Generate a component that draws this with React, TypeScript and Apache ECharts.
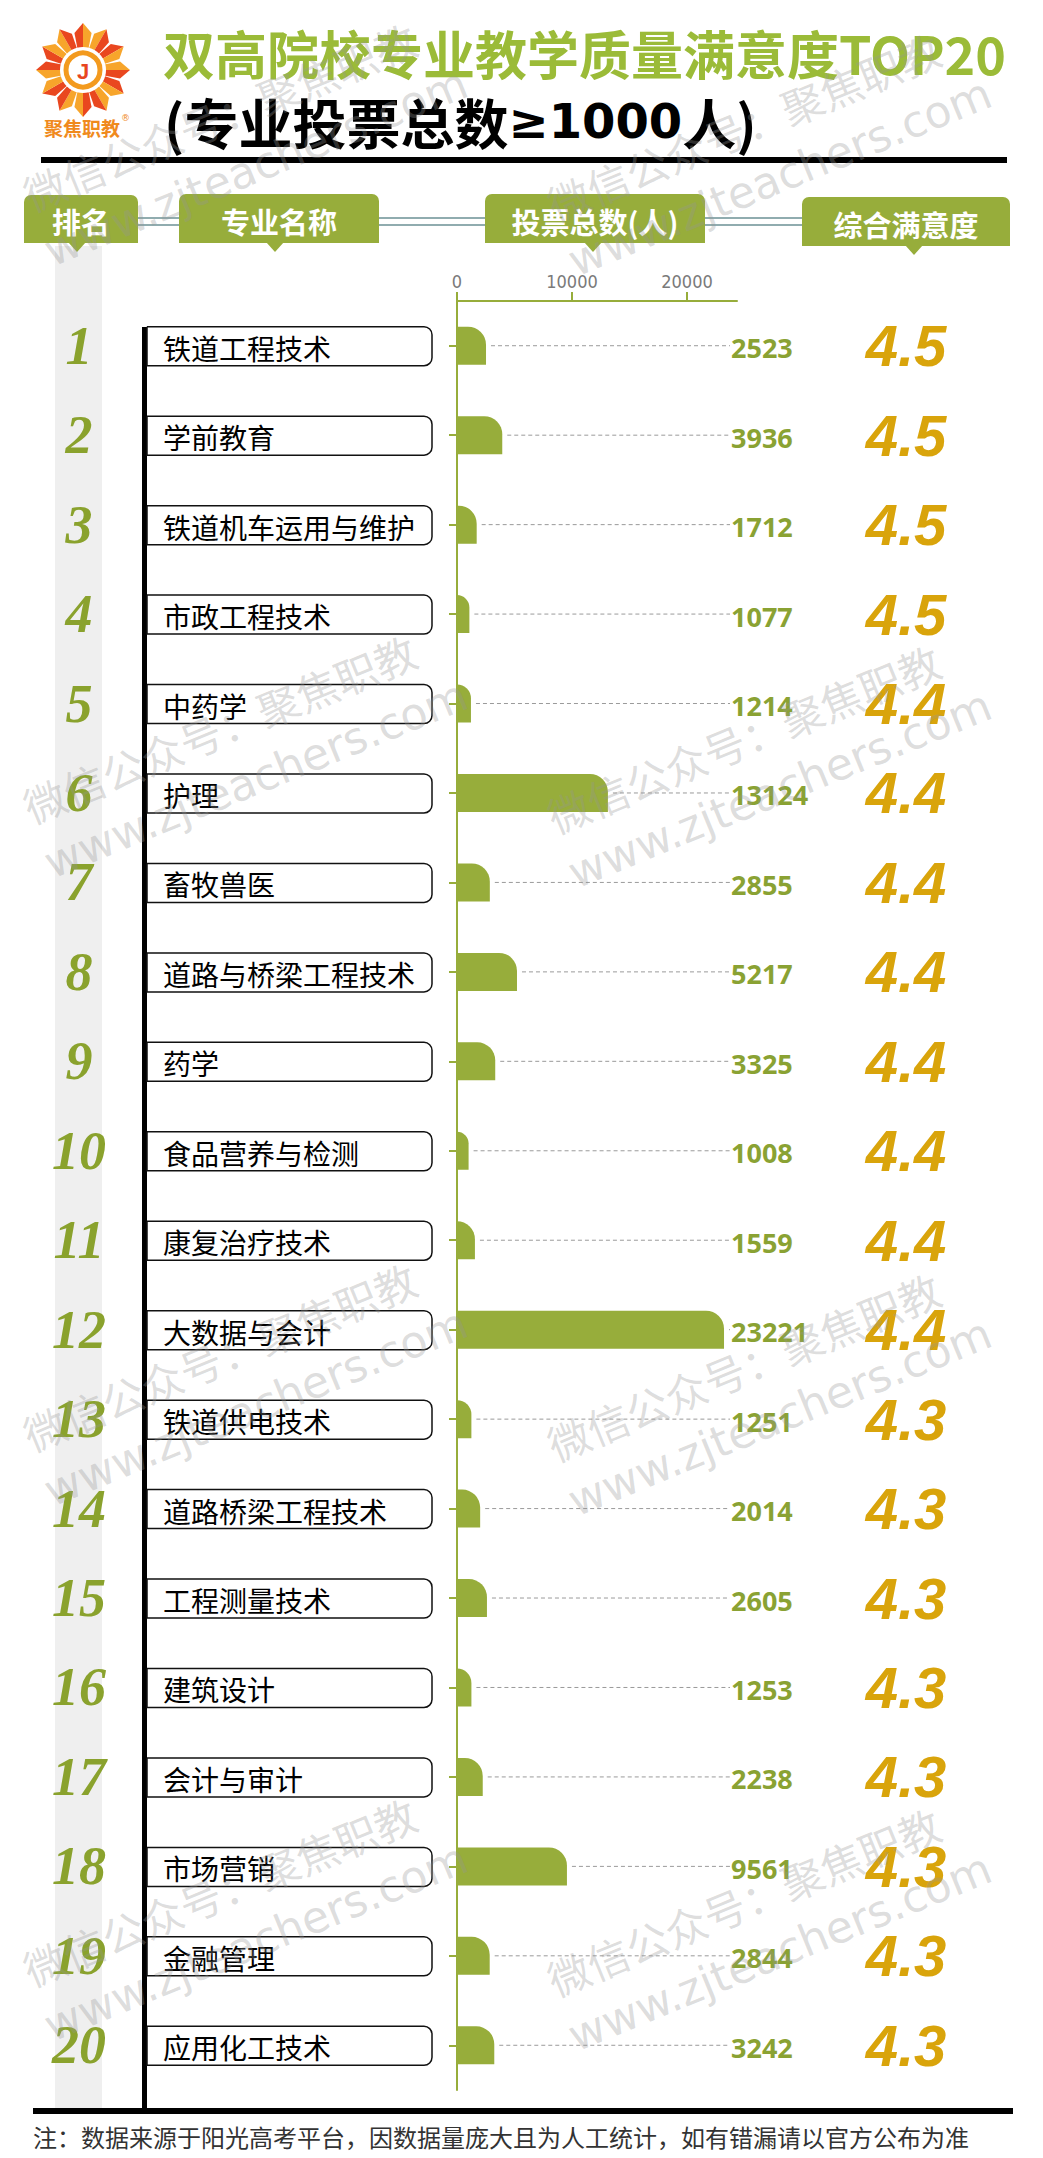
import React, { useEffect, useRef } from 'react';
import * as echarts from 'echarts';

const ranks = ['1', '2', '3', '4', '5', '6', '7', '8', '9', '10', '11', '12', '13', '14', '15', '16', '17', '18', '19', '20'];
const majors = [
  '铁道工程技术', '学前教育', '铁道机车运用与维护', '市政工程技术', '中药学',
  '护理', '畜牧兽医', '道路与桥梁工程技术', '药学', '食品营养与检测',
  '康复治疗技术', '大数据与会计', '铁道供电技术', '道路桥梁工程技术', '工程测量技术',
  '建筑设计', '会计与审计', '市场营销', '金融管理', '应用化工技术',
];
const votes = [2523, 3936, 1712, 1077, 1214, 13124, 2855, 5217, 3325, 1008, 1559, 23221, 1251, 2014, 2605, 1253, 2238, 9561, 2844, 3242];
const scores = [4.5, 4.5, 4.5, 4.5, 4.4, 4.4, 4.4, 4.4, 4.4, 4.4, 4.4, 4.4, 4.3, 4.3, 4.3, 4.3, 4.3, 4.3, 4.3, 4.3];
const axisTickValues = [0, 10000, 20000];
const headers = ['排名', '专业名称', '投票总数(人)', '综合满意度'];
const titleLine1 = '双高院校专业教学质量满意度TOP20';
const titleLine2Parts = ['(专业投票总数', '≥1000', '人)'];
const footnote = '注：数据来源于阳光高考平台，因数据量庞大且为人工统计，如有错漏请以官方公布为准';
const watermark1 = '微信公众号：聚焦职教';
const watermark2 = 'www.zjteachers.com';

const GREEN = '#97ad3b';
const CJK = '"Noto Sans CJK SC", "Noto Sans", sans-serif';

function txt(style: any) {
  const s = { ...style };
  if (s.align) s.textAlign = s.align;
  if (s.verticalAlign) s.textVerticalAlign = s.verticalAlign;
  return s;
}

function buildLogo(): any[] {
  const cx = 83, cy = 70;
  const pt = (r: number, deg: number) => {
    const a = (deg * Math.PI) / 180;
    return [cx + r * Math.cos(a), cy + r * Math.sin(a)];
  };
  const els: any[] = [];
  for (let i = 0; i < 12; i++) {
    const a = -90 + i * 30;
    const red = '#e9471f', orange = '#f7a52b';
    els.push({
      type: 'polygon', z: 5,
      shape: { points: [pt(19, a - 15), pt(38, a - 13), pt(47, a), pt(19, a)] },
      style: { fill: i % 2 === 0 ? red : orange },
    });
    els.push({
      type: 'polygon', z: 5,
      shape: { points: [pt(19, a), pt(47, a), pt(38, a + 13), pt(19, a + 15)] },
      style: { fill: i % 2 === 0 ? orange : red },
    });
  }
  els.push({ type: 'circle', z: 6, shape: { cx, cy, r: 23 }, style: { fill: '#fff' } });
  els.push({ type: 'circle', z: 6, shape: { cx, cy, r: 17 }, style: { fill: '#fff', stroke: '#f39a1e', lineWidth: 5 } });
  els.push({ type: 'text', z: 7, style: txt({ text: 'J', x: cx, y: cy + 1, font: 'bold 22px "Liberation Sans", sans-serif', fill: '#e8461f', align: 'center', verticalAlign: 'middle' }) });
  els.push({ type: 'text', z: 7, style: txt({ text: '聚焦职教', x: 82, y: 127, font: `bold 19px ${CJK}`, fill: '#f08a1d', align: 'center', verticalAlign: 'middle' }) });
  els.push({ type: 'text', z: 7, style: txt({ text: '®', x: 121, y: 118, font: '9px "DejaVu Sans", sans-serif', fill: '#f08a1d', align: 'left', verticalAlign: 'middle' }) });
  return els;
}

function buildHeader(): any[] {
  const boxes = [
    { x: 24, y: 195, w: 114, h: 48, p: 77 },
    { x: 179, y: 194, w: 200, h: 49, p: 275 },
    { x: 485, y: 194, w: 220, h: 49, p: 593 },
    { x: 802, y: 197, w: 208, h: 49, p: 914 },
  ];
  const els: any[] = [
    { type: 'line', z: 3, shape: { x1: 24, y1: 218, x2: 1010, y2: 218 }, style: { stroke: '#6b9095', lineWidth: 1.5 } },
    { type: 'line', z: 3, shape: { x1: 24, y1: 225, x2: 1010, y2: 225 }, style: { stroke: '#6b9095', lineWidth: 1.5 } },
  ];
  boxes.forEach((b, i) => {
    els.push({ type: 'rect', z: 4, shape: { x: b.x, y: b.y, width: b.w, height: b.h, r: [7, 7, 0, 0] }, style: { fill: GREEN } });
    els.push({ type: 'polygon', z: 4, shape: { points: [[b.p - 9, b.y + b.h - 1], [b.p + 9, b.y + b.h - 1], [b.p, b.y + b.h + 9]] }, style: { fill: GREEN } });
    els.push({ type: 'text', z: 5, style: txt({ text: headers[i], x: b.x + b.w / 2, y: b.y + b.h / 2 + 2, font: `bold 29px ${CJK}`, fill: '#fff', align: 'center', verticalAlign: 'middle' }) });
  });
  return els;
}

function buildWatermarks(): any[] {
  const tiles = [[33, 215], [557, 225], [33, 827], [557, 837], [33, 1455], [557, 1465], [33, 1990], [557, 2000]];
  const fill = 'rgba(150,150,150,0.32)';
  return tiles.map(([x, y]) => ({
    type: 'group', x, y, rotation: 0.39,
    children: [
      { type: 'text', z: 100, style: txt({ text: watermark1, x: 0, y: 0, font: `42px ${CJK}`, fill, align: 'left', verticalAlign: 'bottom' }) },
      { type: 'text', z: 100, style: txt({ text: watermark2, x: -2, y: 62, font: '44px "DejaVu Sans", sans-serif', fill, align: 'left', verticalAlign: 'bottom' }) },
    ],
  }));
}

export default function App() {
  const ref = useRef<HTMLDivElement>(null);
  useEffect(() => {
    if (!ref.current) return;
    const chart = echarts.init(ref.current, undefined, { renderer: 'svg' });
    const option: any = {
      animation: false,
      backgroundColor: '#ffffff',
      grid: { left: 457, top: 301, width: 280, height: 1789 },
      xAxis: {
        type: 'value', position: 'top', min: 0, max: 24350,
        axisLine: { show: true, lineStyle: { color: GREEN, width: 2 } },
        axisTick: { show: true, length: 9, customValues: axisTickValues, lineStyle: { color: GREEN, width: 2 } },
        axisLabel: {
          customValues: axisTickValues, color: '#7a7a7a', fontSize: 18, margin: 11,
          fontFamily: '"Liberation Sans Narrow", "DejaVu Sans Condensed", sans-serif',
          formatter: (v: number) => String(v),
        },
        splitLine: { show: false },
      },
      yAxis: {
        type: 'category', inverse: true, data: majors,
        axisLine: { show: true, lineStyle: { color: GREEN, width: 2 } },
        axisTick: { show: true, length: 8, alignWithLabel: true, lineStyle: { color: GREEN, width: 2 } },
        axisLabel: { show: false },
      },
      graphic: [
        ...buildLogo(),
        { type: 'text', z: 5, style: txt({ text: titleLine1, x: 163, y: 52, font: `bold 52px ${CJK}`, fill: '#9bbb38', align: 'left', verticalAlign: 'middle' }) },
        {
          type: 'text', z: 5,
          style: txt({
            text: `{a|${titleLine2Parts[0]}}{b|${titleLine2Parts[1]}}{a|${titleLine2Parts[2]}}`,
            x: 164, y: 121, fill: '#000', align: 'left', verticalAlign: 'middle',
            font: `bold 53px ${CJK}`,
            rich: {
              a: { fontFamily: '"Noto Sans CJK SC", sans-serif', fontWeight: 'bold', fontSize: 54, fill: '#000', color: '#000', verticalAlign: 'middle' },
              b: { fontFamily: '"DejaVu Sans", sans-serif', fontWeight: 'bold', fontSize: 48, fill: '#000', color: '#000', verticalAlign: 'middle' },
            },
          }),
        },
        { type: 'rect', z: 5, shape: { x: 41, y: 157, width: 966, height: 6 }, style: { fill: '#000' } },
        ...buildHeader(),
        { type: 'rect', z: 0, shape: { x: 55, y: 246, width: 47, height: 1862 }, style: { fill: '#efefef' } },
        { type: 'rect', z: 1, shape: { x: 142, y: 327, width: 5, height: 1781 }, style: { fill: '#000' } },
        { type: 'rect', z: 5, shape: { x: 33, y: 2108, width: 980, height: 6 }, style: { fill: '#000' } },
        { type: 'text', z: 5, style: txt({ text: footnote, x: 33, y: 2136, font: `24px ${CJK}`, fill: '#333', align: 'left', verticalAlign: 'middle' }) },
        ...buildWatermarks(),
      ],
      series: [
        {
          type: 'bar', data: votes, barWidth: 38, z: 2,
          itemStyle: { color: GREEN, borderRadius: [0, 18, 0, 0] },
        },
        {
          type: 'custom', clip: false, z: 3,
          data: votes.map((v, i) => [v, i]),
          encode: { x: 0, y: 1 },
          renderItem: (params: any, api: any) => {
            const i = params.dataIndex;
            const p = api.coord([api.value(0), i]);
            const cs = params.coordSys;
            const lx = cs.x + cs.width - 6;
            return {
              type: 'group',
              children: [
                { type: 'line', shape: { x1: p[0] + 5, y1: p[1], x2: lx - 1, y2: p[1] }, style: { stroke: '#9a9a9a', lineWidth: 1, lineDash: [4, 3] } },
                { type: 'text', style: txt({ text: String(votes[i]), x: lx, y: p[1] + 2, font: 'bold 27px "Noto Sans", "Open Sans", sans-serif', fill: '#8aa233', align: 'left', verticalAlign: 'middle' }) },
              ],
            };
          },
        },
        {
          type: 'custom', clip: false, z: 3,
          data: majors.map((_, i) => [0, i]),
          encode: { x: 0, y: 1 },
          renderItem: (params: any, api: any) => {
            const i = params.dataIndex;
            const y = api.coord([0, i])[1];
            return {
              type: 'group',
              children: [
                { type: 'text', style: txt({ text: ranks[i], x: 79, y: y, font: 'italic bold 54px "Liberation Serif", "DejaVu Serif", serif', fill: '#8aa22d', align: 'center', verticalAlign: 'middle' }) },
                { type: 'rect', shape: { x: 147, y: y - 19, width: 285, height: 39, r: [0, 8, 8, 0] }, style: { fill: '#fff', stroke: '#111', lineWidth: 1.5 } },
                { type: 'text', style: txt({ text: majors[i], x: 163, y: y + 2, font: `28px ${CJK}`, fill: '#000', align: 'left', verticalAlign: 'middle' }) },
                { type: 'text', style: txt({ text: scores[i].toFixed(1), x: 906, y: y, font: 'italic bold 58px "Liberation Sans", "DejaVu Sans", sans-serif', fill: '#d9a40b', align: 'center', verticalAlign: 'middle' }) },
              ],
            };
          },
        },
      ],
    };
    chart.setOption(option);
    return () => chart.dispose();
  }, []);
  return <div ref={ref} style={{ position: 'absolute', left: 0, top: 0, width: 1043, height: 2158 }} />;
}
